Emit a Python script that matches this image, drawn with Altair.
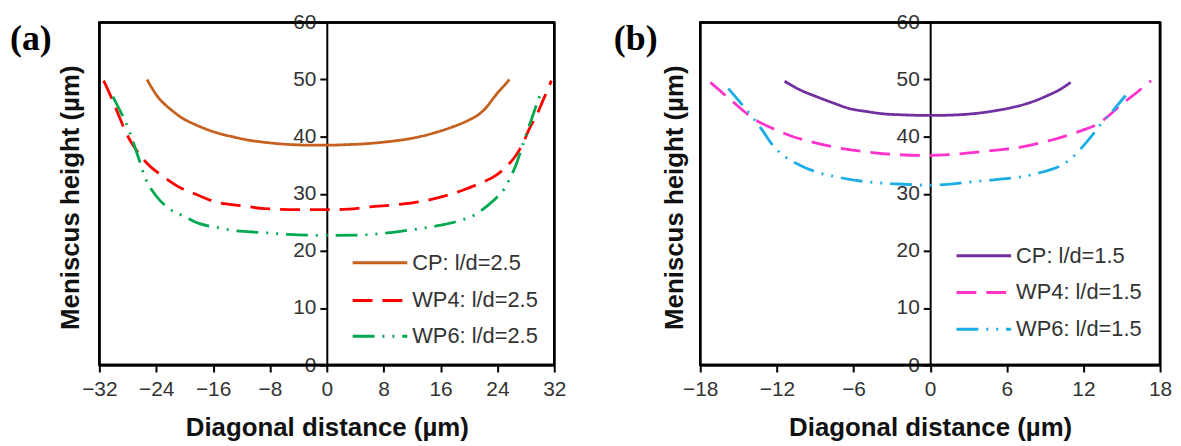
import altair as alt
import pandas as pd

# ---------------- Panel (a) data ----------------
cp_a_x = [-25.3, -24.6, -23.8, -23.0, -22.0, -20.4, -18.5, -15.8, -13.0, -11.1, -8.0, -5.0, -2.0, 0.0,
          3.0, 6.0, 8.5, 11.0, 13.1, 15.5, 17.7, 20.0, 21.5, 22.5, 23.3, 24.2, 25.0, 25.7]
cp_a_y = [50.0, 48.5, 47.0, 45.9, 44.8, 43.3, 42.1, 40.8, 39.9, 39.4, 38.9, 38.6, 38.5, 38.5,
          38.6, 38.8, 39.1, 39.5, 40.0, 40.8, 41.7, 42.9, 44.0, 45.2, 46.5, 47.9, 49.0, 50.0]

wp4_a_x = [-31.4, -30.3, -29.3, -28.3, -27.0, -25.2, -23.0, -20.4, -18.0, -15.8, -12.0, -8.8, -4.0, 0.0,
           3.0, 6.1, 10.0, 13.1, 16.0, 19.1, 21.5, 23.8, 25.3, 26.6, 27.6, 28.5, 29.5, 30.3, 31.0, 31.6]
wp4_a_y = [49.8, 46.8, 43.8, 40.8, 38.0, 35.2, 33.0, 30.9, 29.7, 28.6, 27.9, 27.4, 27.2, 27.2,
           27.3, 27.7, 28.1, 28.6, 29.4, 30.6, 31.8, 33.2, 34.8, 36.7, 38.8, 41.4, 43.7, 46.0, 48.0, 49.8]

wp6_a_x = [-30.1, -29.2, -28.3, -27.4, -26.6, -25.5, -24.0, -22.2, -20.0, -18.0, -15.5, -13.4, -9.0, -5.5, 0.0,
           5.2, 9.0, 13.1, 16.0, 18.7, 20.8, 22.4, 23.8, 25.0, 25.8, 26.6, 27.3, 28.0, 28.9, 29.8, 30.3]
wp6_a_y = [47.0, 44.8, 42.5, 39.6, 36.7, 32.6, 29.6, 27.4, 26.0, 24.8, 24.1, 23.6, 23.2, 22.9, 22.7,
           22.8, 23.2, 23.9, 24.5, 25.3, 26.3, 27.7, 29.2, 30.9, 32.8, 35.0, 37.5, 40.2, 43.4, 46.6, 48.2]

# ---------------- Panel (b) data ----------------
cp_b_x = [-11.4, -10.2, -8.9, -7.6, -6.3, -5.0, -3.7, -2.0, 0.0, 2.0, 3.3, 5.0, 6.6, 8.0, 9.2, 10.2, 11.0]
cp_b_y = [49.7, 48.2, 47.0, 45.9, 44.9, 44.4, 44.0, 43.8, 43.7, 43.8, 44.0, 44.5, 45.2, 46.1, 47.2, 48.3, 49.5]

wp4_b_x = [-17.2, -15.5, -13.8, -12.4, -11.0, -9.3, -7.6, -5.6, -3.7, 0.0, 3.3, 5.0, 7.2, 8.8, 10.3,
           11.8, 13.1, 14.0, 14.9, 16.1, 17.3]
wp4_b_y = [49.5, 46.2, 43.1, 41.5, 40.2, 39.1, 38.2, 37.5, 37.0, 36.7, 37.2, 37.6, 38.2, 39.0, 39.9,
           41.0, 42.2, 43.7, 45.5, 47.6, 49.8]

wp6_b_x = [-15.8, -14.8, -13.8, -13.1, -12.5, -11.5, -10.2, -8.9, -7.0, -5.0, -2.5, 0.0, 3.3, 5.3, 7.2,
           8.8, 10.3, 11.1, 11.8, 12.6, 13.4, 14.4, 15.3]
wp6_b_y = [48.4, 45.8, 43.1, 41.0, 39.0, 36.7, 35.0, 33.8, 32.8, 32.1, 31.7, 31.5, 32.1, 32.5, 33.0,
           33.8, 35.0, 36.3, 37.9, 40.0, 42.3, 44.8, 47.2]

labels_a = ["CP: l/d=2.5", "WP4: l/d=2.5", "WP6: l/d=2.5"]
labels_b = ["CP: l/d=1.5", "WP4: l/d=1.5", "WP6: l/d=1.5"]
colors_a = ["#C5601E", "#FF0000", "#00A84F"]
colors_b = ["#7030A0", "#FF33CC", "#1AADE6"]
dashes = [[1, 0], [20, 10], [22, 8, 2, 8, 2, 8]]

y_ticks = [0, 10, 20, 30, 40, 50, 60]
x_ticks_a = [-32, -24, -16, -8, 0, 8, 16, 24, 32]
x_ticks_b = [-18, -12, -6, 0, 6, 12, 18]

FONT = "Liberation Sans"
LABEL_COLOR = "#333333"


def make_df(series):
    rows = []
    for name, xs, ys in series:
        for i, (x, y) in enumerate(zip(xs, ys)):
            rows.append({"series": name, "x": x, "y": y, "i": i})
    return pd.DataFrame(rows)


def panel(df, labels, colors, xdom, xticks, W, H, tag, tag_dx, ytitle_dx, leg_x, leg_rows):
    one = alt.Data(values=[{}])
    axis_style = dict(domainColor="#000000", domainWidth=2, tickColor="#000000", tickWidth=2,
                      tickSize=7, labelFontSize=21, labelFont=FONT, labelColor=LABEL_COLOR, grid=False)
    lines = alt.Chart(df).mark_line(strokeWidth=2.8, interpolate="monotone").encode(
        x=alt.X("x:Q", scale=alt.Scale(domain=xdom, nice=False, zero=False),
                axis=alt.Axis(values=xticks, title="Diagonal distance (µm)", labelFlush=False,
                              labelPadding=7, titleFont=FONT, titleFontSize=26,
                              titleFontWeight="bold", titleColor="#111111", titlePadding=15,
                              **axis_style)),
        y=alt.Y("y:Q", scale=alt.Scale(domain=[0, 60], nice=False),
                axis=alt.Axis(values=y_ticks, title=None, offset=-W / 2, labelPadding=4,
                              **axis_style)),
        color=alt.Color("series:N", scale=alt.Scale(domain=labels, range=colors), legend=None),
        strokeDash=alt.StrokeDash("series:N", scale=alt.Scale(domain=labels, range=dashes), legend=None),
        order="i:Q",
    )
    layers = [lines]
    # plot frame (four edges)
    edge = dict(color="#000000", strokeWidth=2.5)
    layers.append(alt.Chart(one).mark_rule(**edge).encode(
        x=alt.value(0), x2=alt.value(W), y=alt.value(0)))
    layers.append(alt.Chart(one).mark_rule(**edge).encode(
        x=alt.value(0), x2=alt.value(W), y=alt.value(H)))
    layers.append(alt.Chart(one).mark_rule(**edge).encode(
        x=alt.value(0), y=alt.value(0), y2=alt.value(H)))
    layers.append(alt.Chart(one).mark_rule(**edge).encode(
        x=alt.value(W), y=alt.value(0), y2=alt.value(H)))
    # legend (manual)
    for lab, col, dsh, yy in zip(labels, colors, dashes, leg_rows):
        layers.append(alt.Chart(one).mark_rule(color=col, strokeWidth=3, strokeDash=dsh).encode(
            x=alt.value(leg_x), x2=alt.value(leg_x + 55), y=alt.value(yy)))
        layers.append(alt.Chart(one).mark_text(align="left", baseline="middle", font=FONT,
                                               fontSize=22, color=LABEL_COLOR).encode(
            x=alt.value(leg_x + 60), y=alt.value(yy), text=alt.value(lab)))
    # y-axis title
    layers.append(alt.Chart(one).mark_text(angle=270, align="center", baseline="middle", font=FONT,
                                           fontSize=26, fontWeight="bold", color="#111111").encode(
        x=alt.value(ytitle_dx), y=alt.value(H / 2 + 4), text=alt.value("Meniscus height (µm)")))
    # panel tag
    layers.append(alt.Chart(one).mark_text(align="left", baseline="middle", font="Liberation Serif",
                                           fontSize=36, fontWeight="bold", color="#000000").encode(
        x=alt.value(tag_dx), y=alt.value(17), text=alt.value(tag)))
    return alt.layer(*layers).properties(width=W, height=H)


df_a = make_df([(labels_a[0], cp_a_x, cp_a_y), (labels_a[1], wp4_a_x, wp4_a_y),
                (labels_a[2], wp6_a_x, wp6_a_y)])
df_b = make_df([(labels_b[0], cp_b_x, cp_b_y), (labels_b[1], wp4_b_x, wp4_b_y),
                (labels_b[2], wp6_b_x, wp6_b_y)])

pa = panel(df_a, labels_a, colors_a, [-32, 32], x_ticks_a, 458, 345, "(a)", -90, -29, 255, [242, 280, 316])
pb = panel(df_b, labels_b, colors_b, [-18, 18], x_ticks_b, 463, 345, "(b)", -87, -25, 258, [235, 272, 309])

chart = alt.hconcat(pa, pb, spacing=45).resolve_scale(
    color="independent", strokeDash="independent", x="independent", y="independent"
).properties(padding=0, background="white").configure_view(stroke="#000000", strokeWidth=2.5)

chart.save("out.html", embed_options={"renderer": "svg", "actions": False})
